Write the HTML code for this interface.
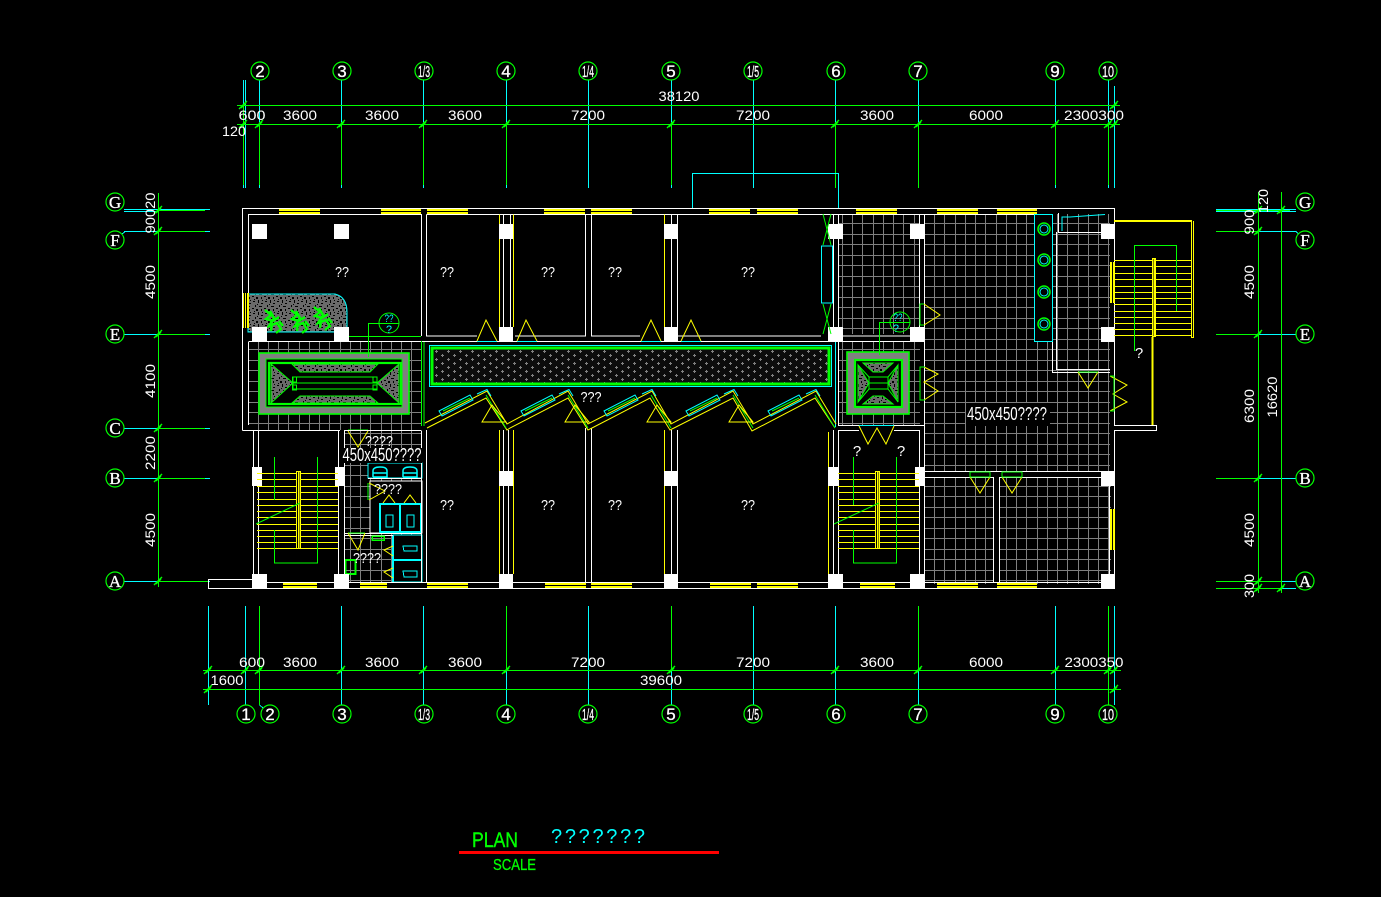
<!DOCTYPE html>
<html lang="en"><head><meta charset="utf-8"><title>PLAN</title>
<style>
html,body{margin:0;padding:0;background:#000;width:1381px;height:897px;overflow:hidden}
svg{display:block}
text{font-family:"Liberation Sans",sans-serif;fill:#fff}
.s{font-family:"Liberation Serif",serif}
</style></head><body>
<svg width="1381" height="897" viewBox="0 0 1381 897" xmlns="http://www.w3.org/2000/svg">
<defs>
<pattern id="g" patternUnits="userSpaceOnUse" x="924" y="213" width="41" height="42">
<path d="M.5 0V42M10.5 0V42M20.5 0V42M31.5 0V42M0 .5H41M0 10.5H41M0 21.5H41M0 31.5H41" stroke="#808080" fill="none" shape-rendering="crispEdges"/>
</pattern>
<pattern id="n" patternUnits="userSpaceOnUse" width="12" height="12">
<rect width="12" height="12" fill="#6a6a6a"/>
<path d="M1 1h2v1H1zM6 0h1v3H6zM9 3h2v1H9zM3 5h1v2H3zM7 6h3v1H7zM0 8h2v1H0zM4 9h2v2H4zM9 9h1v2H9zM2 11h1v1H2zM5 4h1v1H5zM10 0h1v1h-1z" fill="#000"/>
</pattern>
<pattern id="c" patternUnits="userSpaceOnUse" width="12" height="8" x="433" y="350">
<rect width="12" height="8" fill="#0c0c0c"/>
<path d="M2 1h3v1H2zM3 0h1v3H3zM8 5h3v1H8zM9 4h1v3H9z" fill="#808080"/>
</pattern>
<path id="t" d="M-4 4L4-4M-2 3L3-2" stroke="#0f0" fill="none" stroke-width="1.4"/>
<path id="sl" d="M0 .5H81M0 6.5H81M0 13.5H81M0 19.5H81M0 26.5H81M0 32.5H81M0 38.5H81M0 44.5H81M0 51.5H81M0 57.5H81M0 63.5H81M0 69.5H81M0 75.5H81" stroke="#ff0" fill="none" shape-rendering="crispEdges"/>
<g id="w" fill="none">
<path d="M439 411L470 395L473 400L442 416Z M477 394L487 389.500L491 396" stroke="#0ff"/>
<path d="M443 411L470 398" stroke="#0f0"/>
<path d="M486 395L506 428" stroke="#0f0"/>
</g>
<path id="tr" d="M482 422H506L492 405Z" stroke="#ff0" fill="none"/>
<g id="pl" fill="none" stroke="#0f0" stroke-width="2.400">
<path d="M-9-11L-3-6L-8-2L-1 0L5-4M-4-10L0-3L-5 5L3 2L7 8L2 12M-2 2L-3 10M5 0L9 5"/>
</g>
<g id="bas" fill="none" stroke="#0ff" stroke-width="1.500">
<path d="M-7 5V-1Q-7-5 0-5Q7-5 7-1V5H-7M-4 1H4M-7 1H-4M4 1H7"/>
</g>
</defs>
<rect width="1381" height="897" fill="#000"/>

<!-- grids -->
<g>
<rect x="249" y="342" width="172" height="88" fill="url(#g)"/>
<rect x="838" y="214" width="82" height="120" fill="url(#g)"/>
<rect x="838" y="342" width="82" height="84" fill="url(#g)"/>
<rect x="924" y="214" width="186" height="257" fill="url(#g)"/>
<rect x="925" y="477" width="69" height="107" fill="url(#g)"/>
<rect x="999" y="477" width="112" height="107" fill="url(#g)"/>
<rect x="345" y="431" width="77" height="151" fill="url(#g)"/>
</g>

<!-- axis lines top -->
<g fill="none" shape-rendering="crispEdges">
<path stroke="#0ff" d="M243.500 80V105M245.500 80V188M259.500 80V122M341.500 80V122M423.500 80V122M506.500 80V122M588.500 80V188M671.500 80V122M753.500 80V188M835.500 80V122M918.500 80V122M1055.500 80V122M1108.500 80V122M1114.500 86V188M243.500 185V188M259.500 185V188M341.500 185V188M423.500 185V188M506.500 185V188M671.500 185V188M1055.500 185V188M1108.500 185V188"/>
<path stroke="#0f0" d="M243.500 105V185M259.500 122V185M341.500 122V185M423.500 122V185M506.500 122V185M671.500 122V185M835.500 122V188M918.500 122V188M1055.500 122V185M1108.500 122V185"/>
<path stroke="#0f0" d="M237 105.500H1120M237 124.500H1120"/>
<!-- axis lines bottom -->
<path stroke="#0ff" d="M208.500 606V705M245.500 606V705M341.500 606V705M423.500 606V705M506.500 670V705M588.500 606V705M671.500 670V705M753.500 606V705M835.500 606V705M918.500 670V705M1055.500 606V705M1114.500 606V705M259.500 705L263 708"/>
<path stroke="#0f0" d="M259.500 606V705M506.500 606V670M671.500 606V670M918.500 606V670M1108.500 606V705"/>
<path stroke="#0f0" d="M203 670.500H1121M203 689.500H1121"/>
<!-- left axes -->
<path stroke="#0ff" d="M124 209.500H210M124 211.500H156M124 231.500H158M124 334.500H158M124 428.500H158M124 478.500H158M124 581.500H158M205 231.500H210M205 334.500H210M205 428.500H210M205 478.500H210M205 581.500H210"/>
<path stroke="#0f0" d="M158.500 193V587M158 210.500H205M158 231.500H205M158 334.500H205M158 428.500H205M158 478.500H205M158 581.500H208"/>
<path stroke="#0ff" d="M121 235L125 231.500"/>
<!-- right axes -->
<path stroke="#0ff" d="M1216 209.500H1296M1216 211.500H1296M1216 231.500H1296L1300 235M1258 334.500H1296M1258 478.500H1296M1216 581.500H1296M1216 588.500H1296"/>
<path stroke="#0f0" d="M1258.500 192V593M1281.500 192V593M1216 210.500H1290M1216 231.500H1258M1216 334.500H1258M1216 478.500H1258M1216 581.500H1281M1216 588.500H1281"/>
</g>
<!-- ticks -->
<g>
<use href="#t" x="243" y="105"/><use href="#t" x="243" y="124"/><use href="#t" x="1114" y="105"/><use href="#t" x="1114" y="124"/>
<use href="#t" x="259" y="124"/><use href="#t" x="341" y="124"/><use href="#t" x="423" y="124"/><use href="#t" x="506" y="124"/><use href="#t" x="671" y="124"/><use href="#t" x="835" y="124"/><use href="#t" x="918" y="124"/><use href="#t" x="1055" y="124"/><use href="#t" x="1108" y="124"/>
<use href="#t" x="208" y="670"/><use href="#t" x="208" y="689"/><use href="#t" x="245" y="670"/><use href="#t" x="259" y="670"/><use href="#t" x="341" y="670"/><use href="#t" x="423" y="670"/><use href="#t" x="506" y="670"/><use href="#t" x="671" y="670"/><use href="#t" x="835" y="670"/><use href="#t" x="918" y="670"/><use href="#t" x="1055" y="670"/><use href="#t" x="1108" y="670"/><use href="#t" x="1114" y="670"/><use href="#t" x="1114" y="689"/>
<use href="#t" x="158" y="210"/><use href="#t" x="158" y="231"/><use href="#t" x="158" y="334"/><use href="#t" x="158" y="428"/><use href="#t" x="158" y="478"/><use href="#t" x="158" y="581"/>
<use href="#t" x="1258" y="210"/><use href="#t" x="1281" y="210"/><use href="#t" x="1258" y="231"/><use href="#t" x="1258" y="334"/><use href="#t" x="1258" y="478"/><use href="#t" x="1258" y="581"/><use href="#t" x="1258" y="588"/><use href="#t" x="1281" y="588"/>
</g>

<!-- planter -->
<path d="M248 294H335Q347 297 347 312V332H248Z" fill="url(#n)" stroke="#0ff"/>
<use href="#pl" x="274" y="321"/><use href="#pl" x="300" y="321"/><use href="#pl" x="323" y="318"/>
<rect x="243" y="293" width="6" height="35" fill="#ff0"/>
<path d="M244.500 293V328M246.500 293V328" stroke="#000"/>

<!-- lobby left -->
<rect x="259" y="353" width="150" height="61" fill="#808080" stroke="#0f0" stroke-width="1.600"/>
<rect x="266" y="359" width="136" height="48" fill="#000" stroke="#0f0"/>
<rect x="269" y="363" width="132" height="41" fill="#000" stroke="#0f0" stroke-width="2.200"/>
<g fill="url(#n)" stroke="#0f0">
<path d="M271 364L293 383L271 403Z"/><path d="M399 364L377 383L399 403Z"/>
<path d="M292 364L300 372H370L378 364Z"/><path d="M292 403L300 396H370L378 403Z"/>
</g>
<g fill="none" stroke="#0f0" shape-rendering="crispEdges">
<rect x="293" y="377" width="84" height="12"/><path d="M293 383H377"/><rect x="292.500" y="377" width="4" height="5"/><rect x="373" y="377" width="4" height="5"/><rect x="292.500" y="385" width="4" height="5"/><rect x="373" y="385" width="4" height="5"/>
</g>
<!-- lobby right -->
<rect x="847" y="352" width="62" height="62" fill="#808080" stroke="#0f0" stroke-width="1.600"/>
<rect x="855" y="360" width="47" height="47" fill="#000" stroke="#0f0" stroke-width="2.200"/>
<g fill="url(#n)" stroke="#0f0">
<path d="M858 365L869 383L858 402Z"/><path d="M898 365L888 383L898 402Z"/>
<path d="M863 363L873 372H883L893 363Z"/><path d="M863 404L873 396H883L893 404Z"/>
<rect x="869" y="377" width="19" height="12" fill="#000"/>
</g>
<path d="M869 383H888M858 365L869 377M898 365L888 377M858 402L869 389M898 402L888 389" stroke="#0f0" fill="none"/>

<!-- corridor box -->
<rect x="429.500" y="345.500" width="402" height="41" fill="#000" stroke="#0ff"/>
<rect x="432" y="348" width="397" height="36" fill="url(#c)" stroke="#0f0" stroke-width="3"/>

<!-- toilet overlays -->
<g fill="none" stroke-width="1" shape-rendering="crispEdges">
<rect x="368" y="463" width="54" height="15" fill="#000" stroke="#0ff"/>
<rect x="370" y="481" width="52" height="52" fill="#000" stroke="#fff"/>
<rect x="393" y="535" width="29" height="25" fill="#000" stroke="#0ff"/>
<rect x="393" y="560" width="29" height="22" fill="#000" stroke="#0ff"/>
<path d="M393 535V582" stroke="#0ff" stroke-width="2"/>
<path d="M393 560H422" stroke="#0ff" stroke-width="2"/>
<path d="M345 533.500H422M368 478.500H422M345 535.500H393" stroke="#fff"/>
<rect x="380" y="504" width="20" height="28" stroke="#0ff" stroke-width="2"/>
<rect x="400" y="504" width="21" height="28" stroke="#0ff" stroke-width="2"/>
<rect x="386" y="515" width="7" height="12" stroke="#0ff"/>
<rect x="407" y="515" width="7" height="12" stroke="#0ff"/>
<path d="M403 546H417V551H404ZM403 571H417V577H404Z" stroke="#0ff"/>
<rect x="345.500" y="560" width="10" height="14" stroke="#0f0" stroke-width="1.800"/>
<path d="M372 536H384V540H372Z" stroke="#0f0" stroke-width="1.500"/>
<path d="M368 483V500M348 533H365M348 430H368" stroke="#0f0"/>
</g>
<use href="#bas" x="380" y="472"/><use href="#bas" x="410" y="472"/>
<g fill="none" stroke="#ff0">
<path d="M369 483L385 491L369 500M383 503L389 495L395 503M404 503L410 495L416 503M348 533L358 550L365 533M348 431L358 447L368 431M393 546L384 550L393 556M393 568L384 572L393 578"/>
</g>

<!-- walls -->
<g fill="none" stroke="#fff" shape-rendering="crispEdges">
<path d="M242.500 430.500V208.500H1114.500V425.500H1156.500V430.500H1114.500V588.500H208.500V579.500H253"/>
<path d="M248.500 293V214.500H421.500V336M426.500 214.500V336H477M248.500 342V425M248.500 341.500H421M242.500 430.500H340M349 341.500H426M426 341.500H924"/>
<path d="M253 582.500H1110M253.500 430V580M258.500 430V580M338.500 430V580M344.500 430V582M421.500 430.500V582M426.500 430V582M345 430.500H421"/>
<path d="M503.500 214.500V327M510.500 214.500V327M503.500 430V574M508.500 430V574M585.500 214.500V336H515M591.500 214.500V336H640M585.500 428V582M591.500 428V582M671.500 214.500V327M677.500 214.500V336H821M671.500 430V574M677.500 430V574"/>
<path d="M426.500 214.500H1034M833.500 214.500V335M838.500 214.500V336H919M838.500 342V426M833.500 430V574M838.500 430V574M838 430.500H859M894 430.500H919M838 425.500H859M894 425.500H924"/>
<path d="M919.500 214.500V336M924.500 214.500V582M919.500 430V574M924 471.500H1110M924 477.500H994M999 477.500H1110M993.500 477V582M999.500 477V582M1109.500 471V582"/>
<path d="M1052.500 341V372.500H1110M1056.500 232V369.500H1110"/>
<path d="M1058.500 213V232.500H1110"/>
</g>
<path d="M1062 231V217H1070L1105 214.500" stroke="#0ff" fill="none"/>

<!-- yellow wall liners -->
<path d="M499.500 214.500V327M513.500 214.500V327M499.500 430V574M513.500 430V574M664.500 214.500V327M664.500 430V574M828.500 432V574" stroke="#ff0" fill="none" shape-rendering="crispEdges"/>

<!-- windows -->
<g fill="#ff0" shape-rendering="crispEdges">
<rect x="279" y="209" width="41" height="5"/><rect x="381" y="209" width="40" height="5"/><rect x="427" y="209" width="41" height="5"/><rect x="544" y="209" width="41" height="5"/><rect x="591" y="209" width="41" height="5"/><rect x="709" y="209" width="41" height="5"/><rect x="757" y="209" width="41" height="5"/><rect x="856" y="209" width="41" height="5"/><rect x="937" y="209" width="41" height="5"/><rect x="997" y="209" width="40" height="5"/>
<rect x="283" y="583" width="34" height="5"/><rect x="360" y="583" width="27" height="5"/><rect x="427" y="583" width="41" height="5"/><rect x="545" y="583" width="41" height="5"/><rect x="591" y="583" width="41" height="5"/><rect x="710" y="583" width="41" height="5"/><rect x="757" y="583" width="41" height="5"/><rect x="860" y="583" width="35" height="5"/><rect x="937" y="583" width="41" height="5"/><rect x="997" y="583" width="40" height="5"/>
<rect x="1110" y="262" width="5" height="41"/><rect x="1110" y="509" width="5" height="41"/>
</g>
<path stroke="#000" d="M279 211.500H320M381 211.500H421M427 211.500H468M544 211.500H585M591 211.500H632M709 211.500H750M757 211.500H798M856 211.500H897M937 211.500H978M997 211.500H1037M283 585.500H317M360 585.500H387M427 585.500H468M545 585.500H586M591 585.500H632M710 585.500H751M757 585.500H798M860 585.500H895M937 585.500H978M997 585.500H1037M1112.500 262V303M1112.500 509V550" shape-rendering="crispEdges"/>

<!-- columns -->
<g fill="#fff" shape-rendering="crispEdges">
<rect x="252" y="224" width="15" height="15"/><rect x="334" y="224" width="15" height="15"/><rect x="499" y="224" width="14" height="15"/><rect x="664" y="224" width="14" height="15"/><rect x="828" y="224" width="15" height="15"/><rect x="910" y="224" width="15" height="15"/><rect x="1101" y="224" width="14" height="15"/>
<rect x="252" y="327" width="15" height="15"/><rect x="334" y="327" width="15" height="15"/><rect x="499" y="327" width="14" height="15"/><rect x="664" y="327" width="14" height="15"/><rect x="828" y="327" width="15" height="15"/><rect x="910" y="327" width="15" height="15"/><rect x="1101" y="327" width="14" height="15"/>
<rect x="252" y="467" width="10" height="19"/><rect x="335" y="467" width="10" height="19"/><rect x="499" y="471" width="14" height="15"/><rect x="664" y="471" width="14" height="15"/><rect x="828" y="467" width="11" height="19"/><rect x="915" y="467" width="10" height="19"/><rect x="1101" y="471" width="14" height="15"/>
<rect x="252" y="574" width="15" height="15"/><rect x="334" y="574" width="15" height="15"/><rect x="499" y="574" width="14" height="15"/><rect x="664" y="574" width="14" height="15"/><rect x="828" y="574" width="15" height="15"/><rect x="910" y="574" width="15" height="15"/><rect x="1101" y="574" width="14" height="15"/>
</g>

<!-- bracket / corridor cyan -->
<g fill="none" stroke="#0ff" shape-rendering="crispEdges">
<path d="M692.500 208V173.500H838.500V208"/>
<rect x="821.500" y="246" width="11" height="57"/>
<rect x="1034.500" y="214.500" width="18" height="127" fill="#000"/>
<path d="M477 341.500H497M517 341.500H537M641 341.500H661M681 341.500H701M859 425.500H894M835.500 342V427"/>
</g>
<path d="M424 342V426M421.500 341V426" stroke="#0f0" fill="none"/>
<path d="M823 214L831 245M831 214L823 245M823 304L831 334M831 304L823 334" stroke="#0f0" fill="none"/>
<!-- column circles -->
<g fill="none">
<circle cx="1044" cy="229" r="6" stroke="#0f0" stroke-width="1.500"/><circle cx="1044" cy="229" r="4" stroke="#0ff"/>
<circle cx="1044" cy="260" r="6" stroke="#0f0" stroke-width="1.500"/><circle cx="1044" cy="260" r="4" stroke="#0ff"/>
<circle cx="1044" cy="292" r="6" stroke="#0f0" stroke-width="1.500"/><circle cx="1044" cy="292" r="4" stroke="#0ff"/>
<circle cx="1044" cy="324" r="6" stroke="#0f0" stroke-width="1.500"/><circle cx="1044" cy="324" r="4" stroke="#0ff"/>
</g>

<!-- zigzag -->
<g fill="none" stroke="#ff0">
<path d="M427 428L486 398L507 430L510 428L568 398L588 430L592 428L650 398L670 430L674 428L733 398L752 431L815 398L835 428"/>
<path d="M425 423L487 391L507 424L568 391L588 424L652 391L671 424L733 391L753 424L816 391L836 424"/>
</g>
<use href="#w"/><use href="#w" x="82"/><use href="#w" x="165"/><use href="#w" x="247"/><use href="#w" x="329"/>
<use href="#tr"/><use href="#tr" x="83"/><use href="#tr" x="165"/><use href="#tr" x="247"/>

<!-- door triangles -->
<g fill="none" stroke="#ff0">
<path d="M477 341L486 320L497 341M517 341L526 320L537 341M641 341L651 320L661 341M681 341L691 320L701 341"/>
<path d="M924 304L940 315L924 325M924 367L938 374L924 382L938 391L924 400"/>
<path d="M1110 376L1127 385L1113 394L1127 402L1110 411"/>
<path d="M859 426L868 444L877 428L886 444L894 426M970 477L980 493L990 477M1002 477L1012 493L1022 477M1078 372L1088 388L1098 372"/>
</g>
<g fill="none" stroke="#0f0">
<path d="M924 304H920V325H924M925 367H920V400H925M1110 376H1114V411H1110M970 472H990V477H970ZM1002 472H1022V477H1002ZM1078 372H1098"/>
</g>

<!-- stairs -->
<use href="#sl" x="257" y="473"/><use href="#sl" x="838" y="473"/><use href="#sl" x="1114" y="260"/>
<rect x="1192" y="258" width="6" height="82" fill="#000"/>
<g fill="#000" stroke="#ff0" shape-rendering="crispEdges">
<rect x="296.500" y="471.500" width="4" height="77"/><rect x="875.500" y="471.500" width="4" height="77"/><rect x="1152.500" y="258.500" width="3" height="78"/>
</g>
<path d="M298.500 472V548M877.500 472V548M1154 259V336" stroke="#ff0" stroke-width="1.500" shape-rendering="crispEdges"/>
<g fill="none" stroke="#ff0" shape-rendering="crispEdges">
<path d="M1114 220.500H1192M1114 221.500H1192" stroke-width="1"/>
<path d="M1191.500 221V337.500M1193.500 221V337.500M1191 337.500H1194"/>
<path d="M1152 337V425M1153 337V425"/>
</g>
<g fill="none" stroke="#0f0" shape-rendering="crispEdges">
<path d="M274.500 457V500M317.500 457V563H274.500V530"/>
<path d="M853.500 457V505M896.500 457V563H853.500V530"/>
<path d="M1134.500 351V245.500H1176.500V311"/>
</g>
<path d="M256 524L300 503M834 524L879 503" stroke="#0f0" fill="none"/>

<!-- leaders -->
<g fill="none" stroke="#0f0">
<circle cx="389" cy="323" r="10"/><path d="M368.500 357V323.500H399"/>
<circle cx="900" cy="322" r="10"/><path d="M879.500 355V322.500H910"/>
<path d="M349 336.500H421"/>
</g>
<text x="389" y="322" text-anchor="middle" font-size="11" style="fill:#0ff" textLength="9" lengthAdjust="spacingAndGlyphs">??</text>
<text x="389" y="333" text-anchor="middle" font-size="11" style="fill:#0ff" textLength="6" lengthAdjust="spacingAndGlyphs">?</text>
<text x="898" y="321" text-anchor="middle" font-size="11" style="fill:#0ff" textLength="9" lengthAdjust="spacingAndGlyphs">??</text>
<text x="896" y="332" text-anchor="middle" font-size="11" style="fill:#0ff" textLength="6" lengthAdjust="spacingAndGlyphs">?</text>

<!-- bubbles -->
<g fill="#000" stroke="#0f0" stroke-width="1.200">
<circle cx="260" cy="71" r="9"/><circle cx="342" cy="71" r="9"/><circle cx="424" cy="71" r="9"/><circle cx="506" cy="71" r="9"/><circle cx="588" cy="71" r="9"/><circle cx="671" cy="71" r="9"/><circle cx="753" cy="71" r="9"/><circle cx="836" cy="71" r="9"/><circle cx="918" cy="71" r="9"/><circle cx="1055" cy="71" r="9"/><circle cx="1108" cy="71" r="9"/>
<circle cx="246" cy="714" r="9"/><circle cx="270" cy="714" r="9"/><circle cx="342" cy="714" r="9"/><circle cx="424" cy="714" r="9"/><circle cx="506" cy="714" r="9"/><circle cx="588" cy="714" r="9"/><circle cx="671" cy="714" r="9"/><circle cx="753" cy="714" r="9"/><circle cx="836" cy="714" r="9"/><circle cx="918" cy="714" r="9"/><circle cx="1055" cy="714" r="9"/><circle cx="1108" cy="714" r="9"/>
<circle cx="115" cy="202" r="9"/><circle cx="115" cy="240" r="9"/><circle cx="115" cy="334" r="9"/><circle cx="115" cy="428" r="9"/><circle cx="115" cy="478" r="9"/><circle cx="115" cy="581" r="9"/>
<circle cx="1305" cy="202" r="9"/><circle cx="1305" cy="240" r="9"/><circle cx="1305" cy="334" r="9"/><circle cx="1305" cy="478" r="9"/><circle cx="1305" cy="581" r="9"/>
</g>
<g text-anchor="middle" font-size="17" stroke="#fff" stroke-width=".3">
<text x="260" y="77">2</text><text x="342" y="77">3</text><text x="424" y="77" font-size="16" textLength="12" lengthAdjust="spacingAndGlyphs">1/3</text><text x="506" y="77">4</text><text x="588" y="77" font-size="16" textLength="12" lengthAdjust="spacingAndGlyphs">1/4</text><text x="671" y="77">5</text><text x="753" y="77" font-size="16" textLength="12" lengthAdjust="spacingAndGlyphs">1/5</text><text x="836" y="77">6</text><text x="918" y="77">7</text><text x="1055" y="77">9</text><text x="1108" y="77" font-size="16" textLength="12" lengthAdjust="spacingAndGlyphs">10</text>
<text x="246" y="720">1</text><text x="270" y="720">2</text><text x="342" y="720">3</text><text x="424" y="720" font-size="16" textLength="12" lengthAdjust="spacingAndGlyphs">1/3</text><text x="506" y="720">4</text><text x="588" y="720" font-size="16" textLength="12" lengthAdjust="spacingAndGlyphs">1/4</text><text x="671" y="720">5</text><text x="753" y="720" font-size="16" textLength="12" lengthAdjust="spacingAndGlyphs">1/5</text><text x="836" y="720">6</text><text x="918" y="720">7</text><text x="1055" y="720">9</text><text x="1108" y="720" font-size="16" textLength="12" lengthAdjust="spacingAndGlyphs">10</text>
<text class="s" x="115" y="208">G</text><text class="s" x="115" y="246">F</text><text class="s" x="115" y="340">E</text><text class="s" x="115" y="434">C</text><text class="s" x="115" y="484">B</text><text class="s" x="115" y="587">A</text>
<text class="s" x="1305" y="208">G</text><text class="s" x="1305" y="246">F</text><text class="s" x="1305" y="340">E</text><text class="s" x="1305" y="484">B</text><text class="s" x="1305" y="587">A</text>
</g>

<!-- dimensions -->
<g text-anchor="middle" font-size="14">
<text x="679" y="101" textLength="41" lengthAdjust="spacingAndGlyphs">38120</text>
<text x="252" y="120" textLength="27" lengthAdjust="spacingAndGlyphs">600</text>
<text x="300" y="120" textLength="34" lengthAdjust="spacingAndGlyphs">3600</text>
<text x="382" y="120" textLength="34" lengthAdjust="spacingAndGlyphs">3600</text>
<text x="465" y="120" textLength="34" lengthAdjust="spacingAndGlyphs">3600</text>
<text x="588" y="120" textLength="34" lengthAdjust="spacingAndGlyphs">7200</text>
<text x="753" y="120" textLength="34" lengthAdjust="spacingAndGlyphs">7200</text>
<text x="877" y="120" textLength="34" lengthAdjust="spacingAndGlyphs">3600</text>
<text x="986" y="120" textLength="34" lengthAdjust="spacingAndGlyphs">6000</text>
<text x="1094" y="120" textLength="60" lengthAdjust="spacingAndGlyphs">2300300</text>
<text x="234" y="136" textLength="24" lengthAdjust="spacingAndGlyphs">120</text>
<text x="252" y="667" textLength="26" lengthAdjust="spacingAndGlyphs">600</text>
<text x="300" y="667" textLength="34" lengthAdjust="spacingAndGlyphs">3600</text>
<text x="382" y="667" textLength="34" lengthAdjust="spacingAndGlyphs">3600</text>
<text x="465" y="667" textLength="34" lengthAdjust="spacingAndGlyphs">3600</text>
<text x="588" y="667" textLength="34" lengthAdjust="spacingAndGlyphs">7200</text>
<text x="753" y="667" textLength="34" lengthAdjust="spacingAndGlyphs">7200</text>
<text x="877" y="667" textLength="34" lengthAdjust="spacingAndGlyphs">3600</text>
<text x="986" y="667" textLength="34" lengthAdjust="spacingAndGlyphs">6000</text>
<text x="1094" y="667" textLength="59" lengthAdjust="spacingAndGlyphs">2300350</text>
<text x="227" y="685" textLength="33" lengthAdjust="spacingAndGlyphs">1600</text>
<text x="661" y="685" textLength="42" lengthAdjust="spacingAndGlyphs">39600</text>
<text transform="translate(155,213) rotate(-90)" textLength="41" lengthAdjust="spacingAndGlyphs">90020</text>
<text transform="translate(155,282) rotate(-90)" textLength="34" lengthAdjust="spacingAndGlyphs">4500</text>
<text transform="translate(155,381) rotate(-90)" textLength="34" lengthAdjust="spacingAndGlyphs">4100</text>
<text transform="translate(155,453) rotate(-90)" textLength="34" lengthAdjust="spacingAndGlyphs">2200</text>
<text transform="translate(155,530) rotate(-90)" textLength="34" lengthAdjust="spacingAndGlyphs">4500</text>
<text transform="translate(1254,222) rotate(-90)" textLength="25" lengthAdjust="spacingAndGlyphs">900</text>
<text transform="translate(1268,201) rotate(-90)" textLength="24" lengthAdjust="spacingAndGlyphs">120</text>
<text transform="translate(1254,282) rotate(-90)" textLength="34" lengthAdjust="spacingAndGlyphs">4500</text>
<text transform="translate(1254,406) rotate(-90)" textLength="34" lengthAdjust="spacingAndGlyphs">6300</text>
<text transform="translate(1277,397) rotate(-90)" textLength="41" lengthAdjust="spacingAndGlyphs">16620</text>
<text transform="translate(1254,530) rotate(-90)" textLength="34" lengthAdjust="spacingAndGlyphs">4500</text>
<text transform="translate(1254,586) rotate(-90)" textLength="24" lengthAdjust="spacingAndGlyphs">300</text>
</g>

<!-- room labels -->
<g text-anchor="middle" font-size="15">
<text x="342" y="277" textLength="14" lengthAdjust="spacingAndGlyphs">??</text><text x="447" y="277" textLength="14" lengthAdjust="spacingAndGlyphs">??</text><text x="548" y="277" textLength="14" lengthAdjust="spacingAndGlyphs">??</text><text x="615" y="277" textLength="14" lengthAdjust="spacingAndGlyphs">??</text><text x="748" y="277" textLength="14" lengthAdjust="spacingAndGlyphs">??</text>
<text x="447" y="510" textLength="14" lengthAdjust="spacingAndGlyphs">??</text><text x="548" y="510" textLength="14" lengthAdjust="spacingAndGlyphs">??</text><text x="615" y="510" textLength="14" lengthAdjust="spacingAndGlyphs">??</text><text x="748" y="510" textLength="14" lengthAdjust="spacingAndGlyphs">??</text>
<text x="591" y="402" textLength="21" lengthAdjust="spacingAndGlyphs">???</text>
<text x="379" y="446" textLength="28" lengthAdjust="spacingAndGlyphs">????</text>
<text x="388" y="494" textLength="28" lengthAdjust="spacingAndGlyphs">????</text>
<text x="367" y="563" textLength="28" lengthAdjust="spacingAndGlyphs">????</text>
<text x="857" y="456">?</text><text x="901" y="456">?</text><text x="1139" y="358">?</text>
</g>
<rect x="966" y="403" width="84" height="23" fill="#000"/>
<text x="1007" y="420" text-anchor="middle" font-size="18" textLength="80" lengthAdjust="spacingAndGlyphs">450x450????</text>
<rect x="342" y="448" width="80" height="15" fill="#000"/>
<text x="382" y="461" text-anchor="middle" font-size="18" textLength="79" lengthAdjust="spacingAndGlyphs">450x450????</text>

<!-- title -->
<text x="472" y="847" font-size="21" style="fill:#0f0;stroke:#0f0;stroke-width:.4" textLength="46" lengthAdjust="spacingAndGlyphs">PLAN</text>
<text x="551" y="843" font-size="20" style="fill:#0ff" textLength="94" lengthAdjust="spacing">???????</text>
<rect x="459" y="851" width="260" height="3" fill="#f00"/>
<text x="493" y="870" font-size="16" style="fill:#0f0;stroke:#0f0;stroke-width:.3" textLength="43" lengthAdjust="spacingAndGlyphs">SCALE</text>
</svg>
</body></html>
